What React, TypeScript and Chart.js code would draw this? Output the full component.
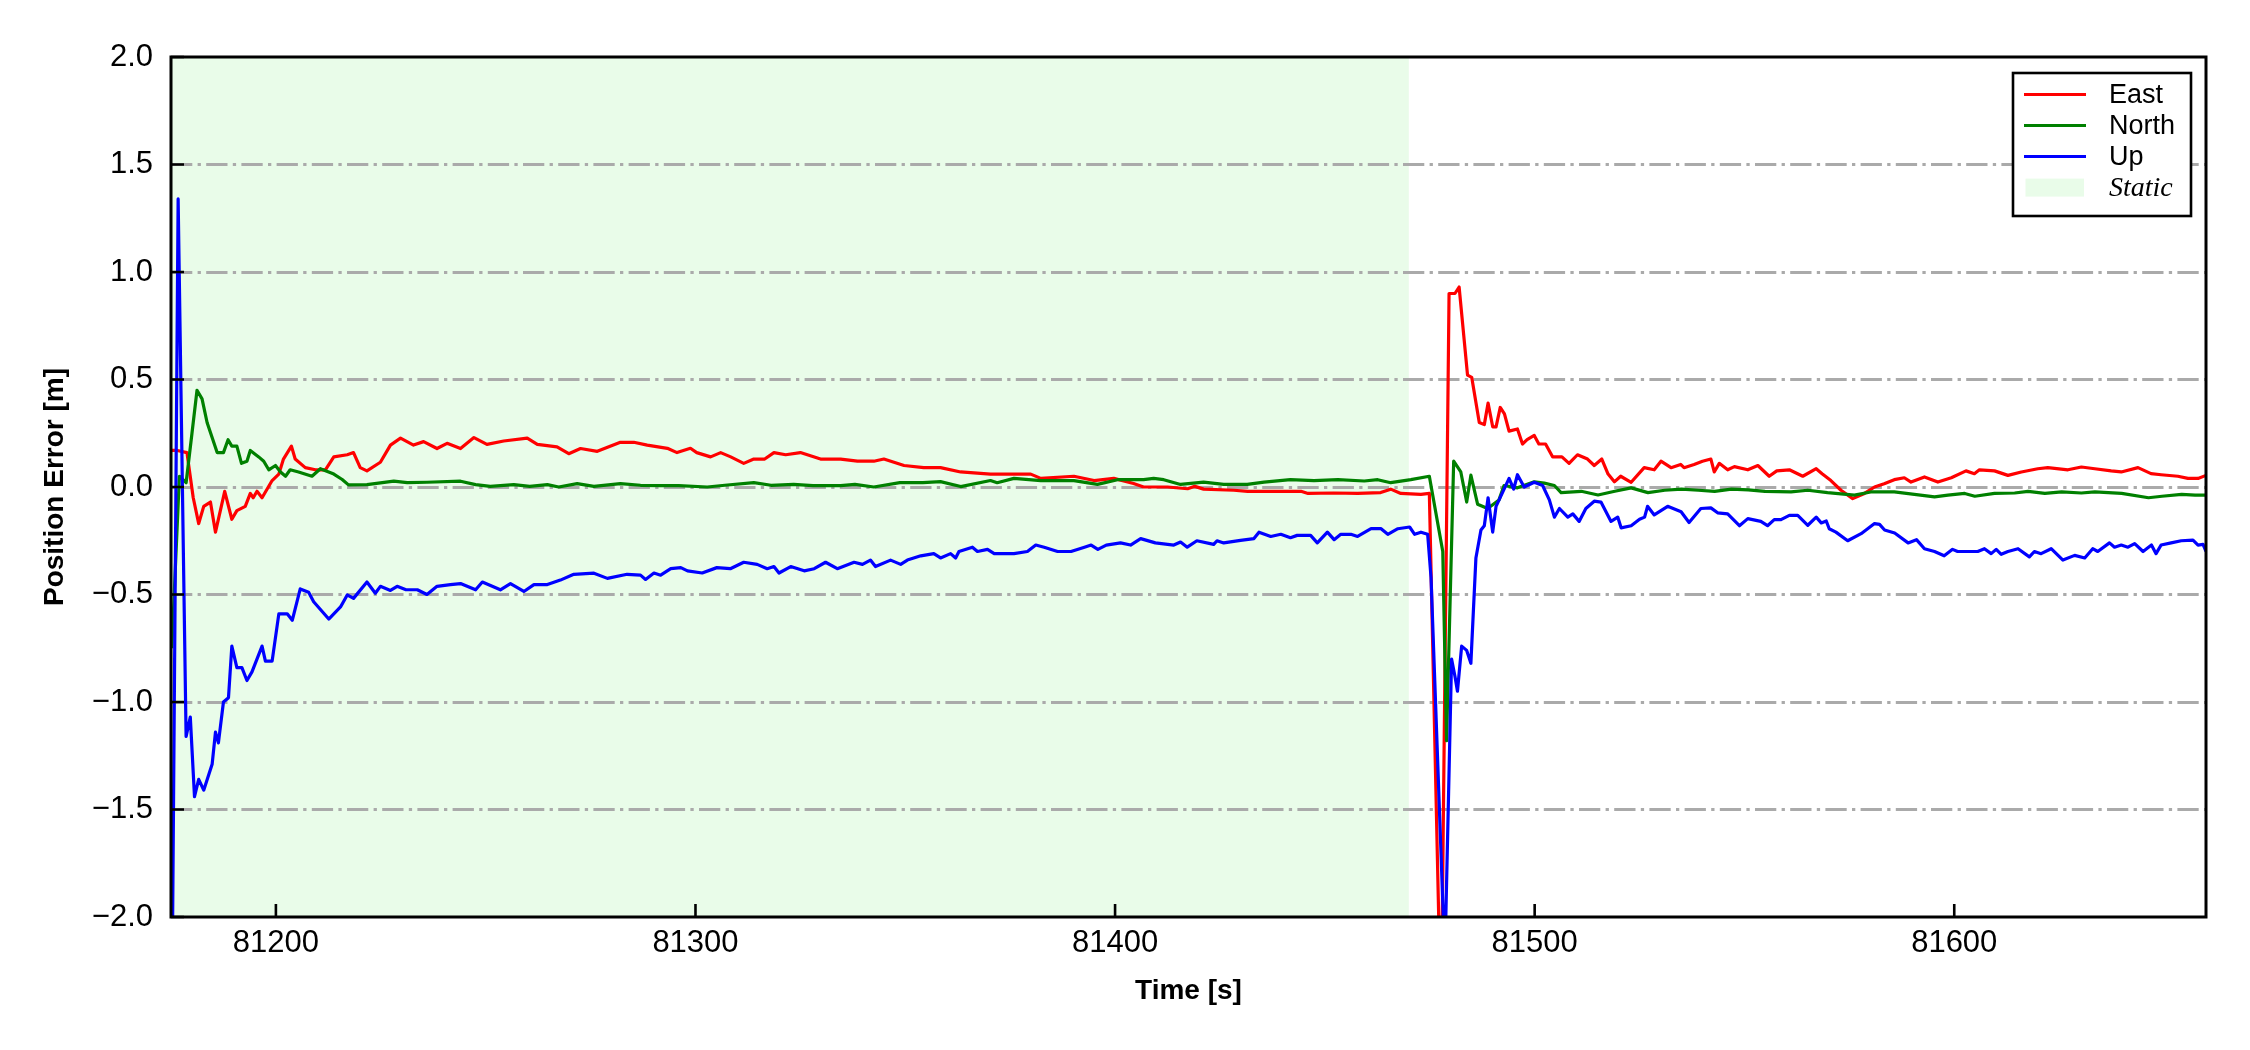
import React, { useEffect, useRef } from 'react';
import { Chart, registerables } from 'chart.js';

Chart.register(...registerables);

// ---------------- data (time [s], error [m]) ----------------
const X_MIN = 81175;
const X_MAX = 81660;
const Y_MIN = -2;
const Y_MAX = 2;
const X_TICKS = [81200, 81300, 81400, 81500, 81600];
const Y_TICKS = [-2, -1.5, -1, -0.5, 0, 0.5, 1, 1.5, 2];
const STATIC_START = 81175;
const STATIC_END = 81470;
const SERIES_NAMES = ['East', 'North', 'Up'];
const SERIES_COLORS = ['#ff0000', '#008000', '#0000ff'];
const STATIC_LABEL = 'Static';

const EAST: [number, number][] = [
  [81175.2,0.17],[81176.5,0.17],[81178.8,0.16],[81180.3,-0.05],[81181.6,-0.17],[81182.8,-0.09],[81184.4,-0.07],[81185.6,-0.21],
  [81187.8,-0.02],[81189.5,-0.15],[81190.7,-0.11],[81192.7,-0.09],[81193.9,-0.03],[81194.6,-0.05],[81195.5,-0.02],[81196.7,-0.05],
  [81199.1,0.03],[81200.7,0.06],[81201.8,0.13],[81203.7,0.19],[81204.6,0.13],[81207.0,0.09],[81209.4,0.08],[81211.8,0.08],
  [81213.8,0.14],[81217.0,0.15],[81218.5,0.16],[81220.1,0.09],[81221.7,0.075],[81224.9,0.115],[81227.3,0.195],[81229.7,0.227],
  [81232.8,0.195],[81235.2,0.211],[81238.4,0.179],[81240.8,0.203],[81244.0,0.179],[81247.2,0.23],[81250.3,0.198],[81254.3,0.214],
  [81259.9,0.227],[81262.3,0.198],[81267.0,0.187],[81269.8,0.155],[81272.6,0.179],[81276.6,0.166],[81282.1,0.208],[81285.3,0.208],
  [81288.5,0.195],[81293.3,0.18],[81295.6,0.16],[81298.8,0.18],[81300.3,0.16],[81303.6,0.14],[81306.0,0.16],[81308.4,0.14],
  [81311.5,0.11],[81313.9,0.13],[81316.5,0.13],[81318.7,0.16],[81321.5,0.15],[81325.0,0.16],[81329.8,0.13],[81334.6,0.13],
  [81338.6,0.12],[81342.5,0.12],[81344.9,0.13],[81349.7,0.10],[81354.4,0.09],[81358.4,0.09],[81363.2,0.07],[81370.3,0.06],
  [81374.3,0.06],[81379.9,0.06],[81382.3,0.04],[81390.2,0.05],[81395.0,0.03],[81399.7,0.04],[81404.4,0.016],[81406.8,0.0],
  [81412.5,0.0],[81417.3,-0.008],[81419.0,0.003],[81421.1,-0.01],[81428.3,-0.015],[81431.6,-0.02],[81437.8,-0.02],[81444.3,-0.02],
  [81446.0,-0.03],[81452.1,-0.028],[81457.8,-0.03],[81463.3,-0.026],[81465.7,-0.01],[81468.1,-0.03],[81472.9,-0.034],[81474.9,-0.03],
  [81477.7,-2.5],[81479.6,0.90],[81481.0,0.90],[81482.0,0.93],[81484.0,0.52],[81485.0,0.51],[81486.8,0.30],[81488.0,0.29],
  [81488.9,0.39],[81490.0,0.28],[81490.8,0.28],[81491.8,0.37],[81492.8,0.34],[81493.9,0.26],[81495.9,0.27],[81497.1,0.20],
  [81498.2,0.22],[81499.9,0.24],[81501.0,0.20],[81502.6,0.20],[81504.3,0.14],[81506.5,0.14],[81508.2,0.11],[81510.2,0.15],
  [81512.6,0.13],[81514.2,0.10],[81516.0,0.13],[81517.5,0.06],[81519.0,0.024],[81520.5,0.05],[81523.0,0.022],[81526.1,0.09],
  [81528.5,0.08],[81530.1,0.12],[81532.5,0.09],[81534.8,0.105],[81535.6,0.09],[81538.0,0.105],[81540.0,0.12],[81542.0,0.13],
  [81542.8,0.07],[81544.0,0.11],[81546.0,0.08],[81547.6,0.095],[81550.8,0.08],[81553.2,0.10],[81555.9,0.05],[81557.7,0.075],
  [81560.7,0.08],[81563.9,0.05],[81567.1,0.085],[81568.5,0.062],[81570.6,0.03],[81573.0,-0.015],[81575.8,-0.054],[81578.6,-0.03],
  [81581.0,0.0],[81583.3,0.015],[81585.7,0.034],[81588.1,0.043],[81589.7,0.023],[81592.9,0.047],[81596.1,0.023],[81599.3,0.043],
  [81602.8,0.075],[81604.8,0.062],[81606.0,0.08],[81609.6,0.075],[81612.8,0.054],[81616.0,0.07],[81619.9,0.085],[81622.3,0.09],
  [81627.1,0.08],[81630.3,0.093],[81633.5,0.085],[81637.4,0.075],[81639.8,0.07],[81643.8,0.09],[81646.9,0.062],[81649.3,0.057],
  [81653.3,0.05],[81655.7,0.04],[81658.1,0.04],[81660,0.054],
];

const NORTH: [number, number][] = [
  [81175.2,-0.75],[81177.0,0.05],[81178.6,0.02],[81180.0,0.25],[81181.2,0.45],[81182.4,0.41],[81183.6,0.30],[81184.8,0.23],
  [81186.0,0.16],[81187.5,0.16],[81188.6,0.22],[81189.5,0.19],[81190.7,0.19],[81191.8,0.11],[81193.1,0.12],[81193.9,0.17],
  [81195.9,0.14],[81197.1,0.12],[81198.3,0.08],[81199.9,0.10],[81201.1,0.07],[81202.3,0.05],[81203.4,0.08],[81205.4,0.07],
  [81208.6,0.05],[81210.6,0.085],[81213.8,0.06],[81215.8,0.035],[81217.3,0.01],[81221.7,0.011],[81228.1,0.027],[81231.3,0.02],
  [81236.0,0.022],[81244.0,0.027],[81247.6,0.011],[81251.1,0.003],[81256.7,0.011],[81260.5,0.003],[81264.7,0.011],[81267.4,0.0],
  [81271.8,0.016],[81275.8,0.003],[81282.1,0.016],[81286.9,0.008],[81291.7,0.006],[81296.0,0.006],[81302.8,0.0],[81307.0,0.008],
  [81313.9,0.02],[81318.0,0.008],[81323.4,0.012],[81328.0,0.006],[81334.6,0.006],[81338.0,0.012],[81342.5,0.0],[81348.7,0.02],
  [81354.2,0.02],[81358.4,0.025],[81363.2,0.002],[81370.3,0.03],[81371.9,0.02],[81375.9,0.04],[81382.3,0.03],[81390.2,0.03],
  [81395.8,0.012],[81400.6,0.034],[81406.8,0.034],[81409.2,0.04],[81411.6,0.034],[81415.6,0.012],[81421.1,0.023],[81425.9,0.012],
  [81431.5,0.012],[81435.5,0.023],[81441.8,0.034],[81447.4,0.03],[81453.1,0.034],[81459.4,0.028],[81462.6,0.034],[81465.7,0.02],
  [81470.5,0.034],[81474.9,0.05],[81478.1,-0.30],[81479.0,-1.18],[81480.7,0.12],[81482.4,0.07],[81483.8,-0.07],[81484.8,0.055],
  [81486.4,-0.08],[81488.8,-0.10],[81491.5,-0.06],[81492.7,0.007],[81495.9,-0.004],[81499.9,0.024],[81502.3,0.018],[81504.7,0.007],
  [81506.3,-0.026],[81511.1,-0.02],[81515.1,-0.037],[81519.1,-0.02],[81523.0,-0.004],[81527.0,-0.026],[81531.0,-0.015],[81535.0,-0.01],
  [81539.0,-0.015],[81542.9,-0.02],[81546.9,-0.01],[81550.9,-0.013],[81554.9,-0.02],[81561.1,-0.023],[81565.1,-0.015],[81569.8,-0.026],
  [81576.2,-0.038],[81580.1,-0.023],[81585.7,-0.023],[81590.5,-0.034],[81595.3,-0.046],[81598.5,-0.038],[81602.5,-0.03],[81604.9,-0.043],
  [81609.6,-0.03],[81614.4,-0.028],[81617.6,-0.02],[81621.6,-0.03],[81625.6,-0.023],[81630.3,-0.028],[81633.5,-0.023],[81639.9,-0.03],
  [81646.3,-0.05],[81649.5,-0.043],[81654.2,-0.034],[81657.4,-0.038],[81660,-0.038],
];

const UP: [number, number][] = [
  [81175.2,-2.5],[81176.7,1.34],[81178.6,-1.16],[81179.6,-1.07],[81180.6,-1.44],[81181.6,-1.36],[81182.8,-1.41],[81184.8,-1.29],
  [81185.6,-1.14],[81186.3,-1.19],[81187.5,-1.00],[81188.7,-0.98],[81189.5,-0.74],[81190.7,-0.84],[81191.9,-0.84],[81193.1,-0.90],
  [81194.3,-0.86],[81196.7,-0.74],[81197.5,-0.81],[81199.1,-0.81],[81200.7,-0.59],[81202.7,-0.59],[81203.9,-0.62],[81205.8,-0.474],
  [81207.8,-0.49],[81209.0,-0.534],[81212.6,-0.614],[81215.4,-0.558],[81217.0,-0.502],[81218.5,-0.518],[81221.7,-0.442],[81223.7,-0.494],
  [81224.9,-0.462],[81227.3,-0.481],[81228.9,-0.462],[81231.0,-0.478],[81233.7,-0.478],[81236.0,-0.50],[81238.4,-0.462],[81241.6,-0.454],
  [81244.0,-0.449],[81247.6,-0.478],[81249.2,-0.442],[81253.5,-0.478],[81255.9,-0.449],[81259.1,-0.486],[81261.5,-0.454],[81264.7,-0.454],
  [81267.8,-0.433],[81271.0,-0.406],[81275.8,-0.401],[81279.0,-0.425],[81283.7,-0.406],[81286.9,-0.41],[81288.1,-0.43],[81290.1,-0.40],
  [81291.7,-0.41],[81294.1,-0.38],[81296.5,-0.375],[81298.1,-0.39],[81301.6,-0.40],[81305.1,-0.375],[81308.3,-0.38],[81311.5,-0.35],
  [81314.7,-0.36],[81317.1,-0.38],[81318.7,-0.37],[81319.9,-0.40],[81322.7,-0.37],[81325.9,-0.39],[81328.3,-0.38],[81331.0,-0.35],
  [81333.8,-0.38],[81337.8,-0.35],[81339.8,-0.36],[81341.7,-0.34],[81342.9,-0.37],[81346.5,-0.34],[81348.9,-0.36],[81350.5,-0.34],
  [81353.7,-0.32],[81356.8,-0.31],[81358.4,-0.33],[81360.8,-0.31],[81362.0,-0.33],[81362.8,-0.30],[81366.0,-0.28],[81367.2,-0.30],
  [81369.6,-0.29],[81371.2,-0.31],[81375.9,-0.31],[81379.1,-0.30],[81381.1,-0.27],[81383.1,-0.28],[81386.3,-0.30],[81389.5,-0.30],
  [81392.7,-0.28],[81394.3,-0.27],[81395.9,-0.29],[81397.9,-0.27],[81401.3,-0.26],[81403.7,-0.27],[81406.1,-0.24],[81409.6,-0.26],
  [81414.0,-0.27],[81415.6,-0.256],[81417.2,-0.28],[81419.5,-0.25],[81423.5,-0.267],[81424.3,-0.25],[81425.9,-0.26],[81429.9,-0.248],
  [81433.1,-0.24],[81434.3,-0.21],[81437.1,-0.23],[81439.5,-0.22],[81441.8,-0.236],[81443.4,-0.225],[81446.6,-0.225],[81448.2,-0.26],
  [81450.6,-0.21],[81452.2,-0.245],[81453.8,-0.22],[81456.2,-0.22],[81457.8,-0.23],[81461.0,-0.194],[81463.4,-0.194],[81465.0,-0.22],
  [81467.4,-0.194],[81470.2,-0.186],[81471.4,-0.22],[81472.9,-0.21],[81474.5,-0.22],[81475.3,-0.42],[81478.6,-2.2],[81480.2,-0.80],
  [81481.0,-0.88],[81481.6,-0.95],[81482.6,-0.74],[81483.8,-0.76],[81484.8,-0.82],[81486.0,-0.33],[81487.2,-0.20],[81488.0,-0.18],
  [81488.9,-0.05],[81490.0,-0.21],[81490.8,-0.09],[81492.0,-0.04],[81493.9,0.04],[81495.0,-0.01],[81495.9,0.057],[81497.5,0.0],
  [81499.9,0.022],[81501.9,0.007],[81503.5,-0.06],[81504.7,-0.14],[81505.9,-0.10],[81507.9,-0.14],[81509.1,-0.125],[81510.6,-0.16],
  [81512.2,-0.10],[81514.2,-0.066],[81515.8,-0.07],[81518.2,-0.16],[81519.8,-0.14],[81520.6,-0.19],[81523.0,-0.18],[81525.0,-0.15],
  [81526.2,-0.14],[81526.9,-0.09],[81528.5,-0.13],[81531.7,-0.09],[81534.9,-0.115],[81536.8,-0.165],[81539.6,-0.10],[81542.0,-0.097],
  [81543.6,-0.12],[81546.0,-0.125],[81548.8,-0.18],[81550.8,-0.147],[81553.9,-0.16],[81555.5,-0.18],[81557.1,-0.152],[81558.7,-0.152],
  [81560.7,-0.132],[81562.7,-0.132],[81565.1,-0.178],[81567.1,-0.14],[81568.3,-0.167],[81569.5,-0.158],[81570.2,-0.194],[81571.8,-0.21],
  [81574.6,-0.25],[81577.8,-0.217],[81581.0,-0.17],[81582.2,-0.174],[81583.4,-0.20],[81585.8,-0.214],[81589.0,-0.26],[81591.0,-0.245],
  [81592.9,-0.287],[81595.3,-0.30],[81597.6,-0.32],[81599.6,-0.29],[81600.8,-0.30],[81605.6,-0.30],[81607.2,-0.287],[81608.8,-0.31],
  [81610.0,-0.29],[81611.2,-0.313],[81612.8,-0.30],[81615.2,-0.287],[81617.9,-0.325],[81619.1,-0.30],[81620.7,-0.31],[81623.1,-0.287],
  [81625.9,-0.34],[81628.7,-0.318],[81631.1,-0.33],[81633.0,-0.287],[81634.2,-0.30],[81637.0,-0.26],[81638.2,-0.28],[81639.8,-0.27],
  [81641.4,-0.28],[81643.0,-0.263],[81645.0,-0.30],[81647.0,-0.27],[81648.1,-0.31],[81649.3,-0.27],[81651.7,-0.26],[81654.1,-0.25],
  [81656.9,-0.247],[81658.1,-0.27],[81659.3,-0.267],[81660,-0.30],
];

const SERIES_DATA = [EAST, NORTH, UP];

// ---------------- styling ----------------
const SANS = '"Liberation Sans", Arial, Helvetica, sans-serif';
const SERIF = '"Liberation Serif", "Times New Roman", serif';
const STATIC_FILL = '#e9fce9';
const GRID_COLOR = '#aaaaaa';

const fmtY = (v: number) => (v < 0 ? '\u2212' : '') + Math.abs(v).toFixed(1);

const staticPlugin = {
  id: 'staticRegion',
  beforeDraw(chart: any) {
    const { ctx, chartArea: a, scales } = chart;
    const x0 = Math.max(a.left, scales.x.getPixelForValue(STATIC_START));
    const x1 = Math.min(a.right, scales.x.getPixelForValue(STATIC_END));
    ctx.save();
    ctx.fillStyle = STATIC_FILL;
    ctx.fillRect(x0, a.top, x1 - x0, a.bottom - a.top);
    ctx.restore();
  },
};

const frameTicksPlugin = {
  id: 'frameTicks',
  afterDatasetsDraw(chart: any) {
    const { ctx, chartArea: a, scales } = chart;
    ctx.save();
    ctx.strokeStyle = '#000';
    ctx.lineWidth = 2.6;
    ctx.beginPath();
    X_TICKS.forEach((v) => {
      const px = scales.x.getPixelForValue(v);
      ctx.moveTo(px, a.bottom);
      ctx.lineTo(px, a.bottom - 13);
    });
    Y_TICKS.forEach((v) => {
      const py = scales.y.getPixelForValue(v);
      ctx.moveTo(a.left, py);
      ctx.lineTo(a.left + 13, py);
    });
    ctx.stroke();
    ctx.lineWidth = 3;
    ctx.strokeRect(a.left, a.top, a.right - a.left, a.bottom - a.top);
    ctx.restore();
  },
};

const legendPlugin = {
  id: 'customLegend',
  afterDraw(chart: any) {
    const { ctx, chartArea: a } = chart;
    const bw = 178;
    const bh = 143;
    const bx = a.right - 193;
    const by = a.top + 16;
    ctx.save();
    ctx.fillStyle = '#fff';
    ctx.fillRect(bx, by, bw, bh);
    ctx.lineWidth = 2.6;
    ctx.strokeStyle = '#000';
    ctx.strokeRect(bx, by, bw, bh);
    ctx.textBaseline = 'middle';
    ctx.textAlign = 'left';
    SERIES_NAMES.forEach((name, i) => {
      const ry = by + 21.6 + i * 31;
      ctx.strokeStyle = SERIES_COLORS[i];
      ctx.lineWidth = 3;
      ctx.beginPath();
      ctx.moveTo(bx + 11, ry);
      ctx.lineTo(bx + 73, ry);
      ctx.stroke();
      ctx.fillStyle = '#000';
      ctx.font = `27px ${SANS}`;
      ctx.fillText(name, bx + 96, ry + 1);
    });
    const sy = by + 21.6 + 3 * 31;
    ctx.fillStyle = STATIC_FILL;
    ctx.fillRect(bx + 12.5, sy - 9, 58.5, 18);
    ctx.fillStyle = '#000';
    ctx.font = `italic 28px ${SERIF}`;
    ctx.fillText(STATIC_LABEL, bx + 96, sy + 1);
    ctx.restore();
  },
};

export default function App() {
  const ref = useRef<HTMLCanvasElement>(null);

  useEffect(() => {
    if (!ref.current) return;
    const chart = new Chart(ref.current, {
      type: 'line',
      data: {
        datasets: SERIES_DATA.map((series, i) => ({
          label: SERIES_NAMES[i],
          data: series.map(([x, y]) => ({ x, y })),
          borderColor: SERIES_COLORS[i],
          backgroundColor: SERIES_COLORS[i],
          borderWidth: 3.2,
          pointRadius: 0,
          pointHoverRadius: 0,
          tension: 0,
          fill: false,
          order: 2 - i,
          borderJoinStyle: 'round' as const,
        })),
      },
      options: {
        animation: false,
        responsive: false,
        devicePixelRatio: 1,
        events: [],
        layout: { padding: { top: 57, right: 44, bottom: 0, left: 0 } },
        plugins: {
          legend: { display: false },
          tooltip: { enabled: false },
        },
        scales: {
          x: {
            type: 'linear',
            min: X_MIN,
            max: X_MAX,
            afterBuildTicks: (scale: any) => {
              scale.ticks = X_TICKS.map((value) => ({ value }));
            },
            afterFit: (scale: any) => {
              scale.height = 133;
            },
            grid: { display: false, drawTicks: false },
            border: { display: false },
            ticks: {
              maxRotation: 0,
              autoSkip: false,
              padding: 8,
              color: '#000',
              font: { family: SANS, size: 31 },
              callback: (v: any) => String(v),
            },
            title: {
              display: true,
              text: 'Time [s]',
              color: '#000',
              font: { family: SANS, size: 28, weight: 'bold' },
              padding: { top: 0, bottom: 42 },
            },
          },
          y: {
            type: 'linear',
            min: Y_MIN,
            max: Y_MAX,
            afterBuildTicks: (scale: any) => {
              scale.ticks = Y_TICKS.map((value) => ({ value }));
            },
            afterFit: (scale: any) => {
              scale.width = 171;
            },
            grid: {
              display: true,
              drawTicks: false,
              lineWidth: 3,
              color: (c: any) =>
                c.tick && Math.abs(c.tick.value) === 2 ? 'rgba(0,0,0,0)' : GRID_COLOR,
            },
            border: { display: false, dash: [21.3, 5.3, 3.3, 5.3] },
            ticks: {
              autoSkip: false,
              padding: 18,
              color: '#000',
              font: { family: SANS, size: 31 },
              callback: (v: any) => fmtY(Number(v)),
            },
            title: {
              display: true,
              text: 'Position Error [m]',
              color: '#000',
              font: { family: SANS, size: 28, weight: 'bold' },
              padding: { top: 38, bottom: 0 },
            },
          },
        },
      },
      plugins: [staticPlugin, frameTicksPlugin, legendPlugin],
    } as any);
    return () => chart.destroy();
  }, []);

  return (
    <div
      style={{
        position: 'absolute',
        left: 0,
        top: 0,
        width: 2250,
        height: 1050,
        background: '#fff',
      }}
    >
      <canvas
        ref={ref}
        width={2250}
        height={1050}
        style={{ display: 'block', width: 2250, height: 1050 }}
      />
    </div>
  );
}
